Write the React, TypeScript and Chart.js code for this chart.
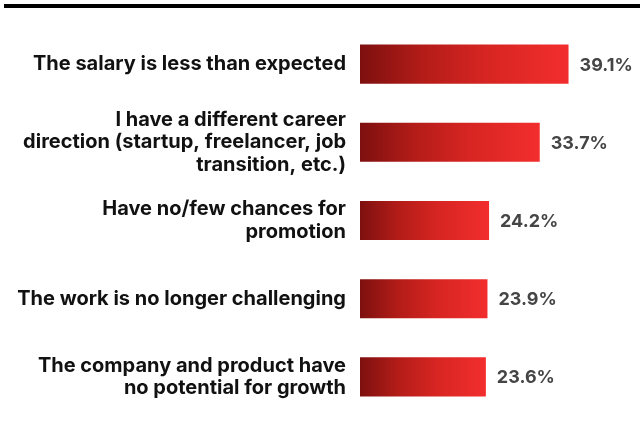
import React, { useEffect, useRef } from "react";
import { Chart, registerables } from "chart.js";

Chart.register(...registerables);

const categories: (string | string[])[] = [
  "The salary is less than expected",
  ["I have a different career", "direction (startup, freelancer, job", "transition, etc.)"],
  ["Have no/few chances for", "promotion"],
  "The work is no longer challenging",
  ["The company and product have", "no potential for growth"],
];
const values = [39.1, 33.7, 24.2, 23.9, 23.6];
const valueLabels = ["39.1%", "33.7%", "24.2%", "23.9%", "23.6%"];

const FONT = "Inter, 'Open Sans', sans-serif";

const topRule = {
  id: "topRule",
  beforeDraw(chart: any) {
    const ctx = chart.ctx;
    ctx.save();
    ctx.fillStyle = "#ffffff";
    ctx.fillRect(0, 0, chart.width, chart.height);
    ctx.fillStyle = "#000000";
    ctx.fillRect(4, 4, chart.width - 4, 4);
    ctx.restore();
  },
};

const valueLabelPlugin = {
  id: "valueLabels",
  afterDatasetsDraw(chart: any) {
    const ctx = chart.ctx;
    const meta = chart.getDatasetMeta(0);
    ctx.save();
    ctx.font = `700 18px ${FONT}`;
    ctx.fillStyle = "#454545";
    ctx.textAlign = "left";
    ctx.textBaseline = "middle";
    meta.data.forEach((bar: any, i: number) => {
      ctx.fillText(valueLabels[i], bar.x + 11, bar.y + 1);
    });
    ctx.restore();
  },
};

export default function App() {
  const ref = useRef<HTMLCanvasElement>(null);
  useEffect(() => {
    if (!ref.current) return;
    const chart = new Chart(ref.current, {
      type: "bar",
      data: {
        labels: categories,
        datasets: [
          {
            data: values,
            barPercentage: 0.5,
            categoryPercentage: 1,
            backgroundColor: (c: any) => {
              const chartObj = c.chart;
              const xs = chartObj.scales?.x;
              if (!xs || !chartObj.chartArea || c.raw == null) return "#d42525";
              const x0 = xs.getPixelForValue(0);
              const x1 = xs.getPixelForValue(c.raw);
              if (!isFinite(x0) || !isFinite(x1) || x1 <= x0) return "#d42525";
              const g = chartObj.ctx.createLinearGradient(x0, 0, x1, 0);
              g.addColorStop(0, "#7d100f");
              g.addColorStop(0.3, "#b31c18");
              g.addColorStop(0.6, "#d62522");
              g.addColorStop(1, "#f22e2d");
              return g;
            },
          },
        ],
      },
      options: {
        indexAxis: "y",
        animation: false,
        responsive: false,
        maintainAspectRatio: false,
        layout: { padding: { top: 25, bottom: 21, left: 0, right: 8 } },
        plugins: { legend: { display: false }, tooltip: { enabled: false } },
        scales: {
          x: {
            display: false,
            min: 0,
            max: 51,
          },
          y: {
            grid: { display: false, drawTicks: false },
            border: { display: false },
            ticks: {
              color: "#111111",
              padding: 14,
              font: { family: FONT, size: 20, weight: "bold", lineHeight: 1.12 },
            },
            afterFit: (s: any) => {
              s.width = 360;
              s.paddingTop = 0;
              s.paddingBottom = 0;
            },
          },
        },
      },
      plugins: [topRule, valueLabelPlugin],
    });
    return () => chart.destroy();
  }, []);
  return (
    <div style={{ position: "fixed", left: 0, top: 0, width: 640, height: 437, background: "#fff" }}>
      <canvas ref={ref} width={640} height={437} style={{ width: 640, height: 437, display: "block" }} />
    </div>
  );
}
